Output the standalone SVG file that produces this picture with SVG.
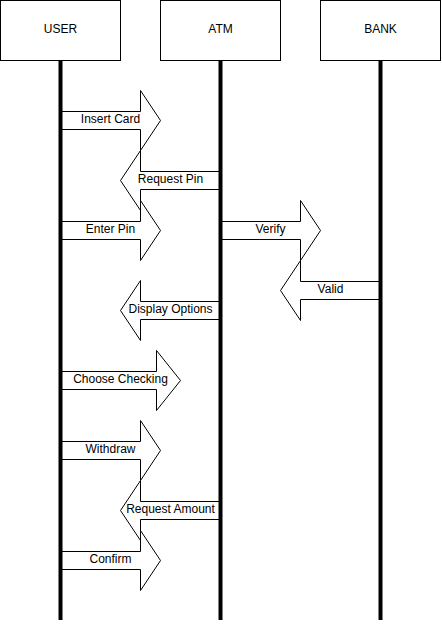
<svg xmlns="http://www.w3.org/2000/svg" width="442" height="626" viewBox="0 0 442 626">
<style>
.box{fill:#fff;stroke:#000;stroke-width:1}
.life{stroke:#000;stroke-width:4;fill:none}
.arr{fill:#fff;stroke:#000;stroke-width:1;stroke-linejoin:miter}
.lbl{font-family:"Liberation Sans",Arial,Helvetica,sans-serif;font-size:12px;fill:#000;text-anchor:middle}
</style>
<rect width="442" height="626" fill="#fff"/>
<g id="connectors" transform="translate(0.5,0.5)">
  <g id="msg-insert-card">
    <polygon class="arr" points="60,111 140,111 140,90 160,120 140,150 140,129 60,129"/>
    <text class="lbl" x="110" y="122">Insert Card</text>
  </g>
  <g id="msg-request-pin">
    <polygon class="arr" points="220,171 140,171 140,150 120,180 140,210 140,189 220,189"/>
    <text class="lbl" x="170" y="182">Request Pin</text>
  </g>
  <g id="msg-enter-pin">
    <polygon class="arr" points="60,221 140,221 140,200 160,230 140,260 140,239 60,239"/>
    <text class="lbl" x="110" y="232">Enter Pin</text>
  </g>
  <g id="msg-verify">
    <polygon class="arr" points="220,221 300,221 300,200 320,230 300,260 300,239 220,239"/>
    <text class="lbl" x="270" y="232">Verify</text>
  </g>
  <g id="msg-valid">
    <polygon class="arr" points="380,281 300,281 300,260 280,290 300,320 300,299 380,299"/>
    <text class="lbl" x="330" y="292">Valid</text>
  </g>
  <g id="msg-display-options">
    <polygon class="arr" points="220,301 140,301 140,280 120,310 140,340 140,319 220,319"/>
    <text class="lbl" x="170" y="312">Display Options</text>
  </g>
  <g id="msg-choose-checking">
    <polygon class="arr" points="60,371 156,371 156,350 180,380 156,410 156,389 60,389"/>
    <text class="lbl" x="120" y="382">Choose Checking</text>
  </g>
  <g id="msg-withdraw">
    <polygon class="arr" points="60,441 140,441 140,420 160,450 140,480 140,459 60,459"/>
    <text class="lbl" x="110" y="452">Withdraw</text>
  </g>
  <g id="msg-request-amount">
    <polygon class="arr" points="220,501 140,501 140,480 120,510 140,540 140,519 220,519"/>
    <text class="lbl" x="170" y="512">Request Amount</text>
  </g>
  <g id="msg-confirm">
    <polygon class="arr" points="60,551 140,551 140,530 160,560 140,590 140,569 60,569"/>
    <text class="lbl" x="110" y="562">Confirm</text>
  </g>
</g>
<g id="user">
  <rect class="box" x="0.5" y="0.5" width="120" height="60"/>
  <text class="lbl" x="60.5" y="32.5">USER</text>
  <line class="life" x1="60.5" y1="61" x2="60.5" y2="620"/>
</g>
<g id="atm">
  <rect class="box" x="160.5" y="0.5" width="120" height="60"/>
  <text class="lbl" x="220.5" y="32.5">ATM</text>
  <line class="life" x1="220.5" y1="61" x2="220.5" y2="620"/>
</g>
<g id="bank">
  <rect class="box" x="320.5" y="0.5" width="120" height="60"/>
  <text class="lbl" x="380.5" y="32.5">BANK</text>
  <line class="life" x1="380.5" y1="61" x2="380.5" y2="620"/>
</g>
</svg>
